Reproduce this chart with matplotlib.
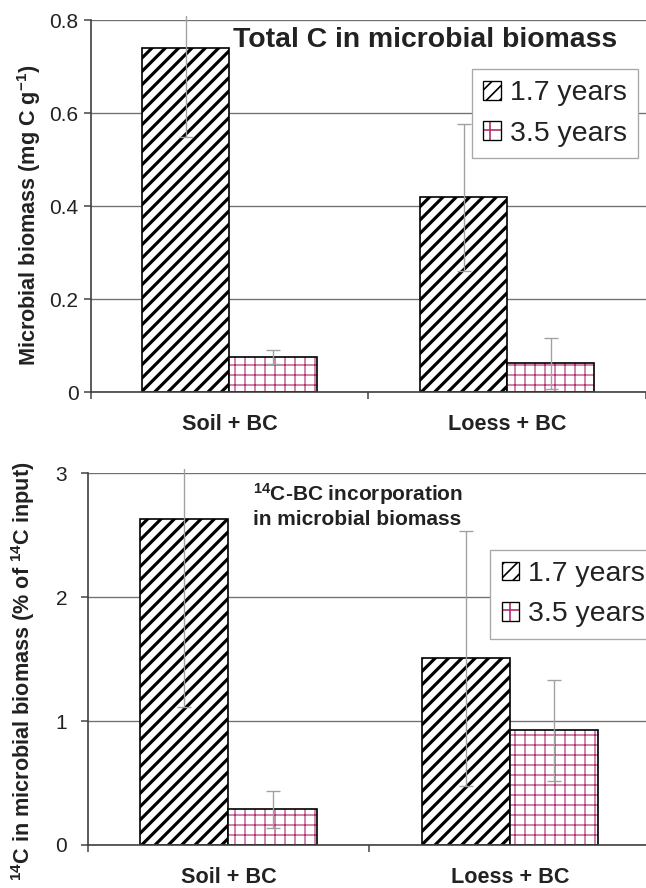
import matplotlib
matplotlib.use("Agg")
import matplotlib.pyplot as plt
from matplotlib.patches import Patch, Rectangle
from matplotlib.legend_handler import HandlerTuple
import numpy as np

# ---------------- data ----------------
categories = ["Soil + BC", "Loess + BC"]
series_labels = ["1.7 years", "3.5 years"]

biomass_17 = [0.740, 0.419]
biomass_17_err = [0.191, 0.158]
biomass_35 = [0.075, 0.062]
biomass_35_err = [0.015, 0.054]
biomass_ticks = [0, 0.2, 0.4, 0.6, 0.8]
biomass_ticklabels = ["0", "0.2", "0.4", "0.6", "0.8"]

inc_17 = [2.63, 1.507]
inc_17_err = [1.515, 1.03]
inc_35 = [0.288, 0.926]
inc_35_err = [0.15, 0.406]
inc_ticks = [0, 1, 2, 3]
inc_ticklabels = ["0", "1", "2", "3"]

# ---------------- style ----------------
DPI = 120
plt.rcParams['font.family'] = ['Liberation Sans', 'DejaVu Sans']
plt.rcParams['mathtext.fontset'] = 'custom'
plt.rcParams['mathtext.rm'] = 'Liberation Sans:bold'
plt.rcParams['mathtext.bf'] = 'Liberation Sans:bold'
plt.rcParams['mathtext.it'] = 'Liberation Sans:bold'
plt.rcParams['mathtext.default'] = 'rm'

TXT = '#222222'
MAG = '#B03070'
GRID = '#707070'
ERR = '#a0a0a0'
W = 0.314

fig = plt.figure(figsize=(646 / DPI, 888 / DPI), dpi=DPI)


def hatch_lw(p, lw):
    if hasattr(p, 'set_hatch_linewidth'):
        p.set_hatch_linewidth(lw)


def draw_panel(ax, v17, e17, v35, e35, ylim, ticks, ticklabels, ypad):
    x = np.arange(len(categories))
    with plt.rc_context({'hatch.linewidth': 1.9}):
        b1 = ax.bar(x - W / 2, v17, W, facecolor='white', edgecolor='black',
                    hatch='///', linewidth=1.0, zorder=3)
    for p in b1:
        hatch_lw(p, 1.9)
    with plt.rc_context({'hatch.linewidth': 0.7}):
        b2 = ax.bar(x + W / 2, v35, W, facecolor='white', edgecolor=MAG,
                    hatch='++', linewidth=0, zorder=3)
    for p in b2:
        hatch_lw(p, 0.7)
    ax.bar(x + W / 2, v35, W, fill=False, edgecolor='black', linewidth=1.0, zorder=4)

    eb1 = ax.errorbar(x - W / 2, v17, yerr=e17, fmt='none', ecolor=ERR,
                      elinewidth=0.8, capsize=4, capthick=0.8, zorder=5)
    eb2 = ax.errorbar(x + W / 2, v35, yerr=e35, fmt='none', ecolor=ERR,
                      elinewidth=0.8, capsize=4, capthick=0.8, zorder=5)
    clip = Rectangle((0, 0), 1, 1.012, transform=ax.transAxes)
    for eb in (eb1, eb2):
        for art in eb.get_children():
            art.set_clip_path(clip)

    ax.set_xlim(-0.5, len(categories) - 0.5)
    ax.set_ylim(*ylim)
    ax.set_yticks(ticks)
    ax.set_yticklabels(ticklabels)
    ax.yaxis.grid(True, color=GRID, linewidth=0.8, zorder=0)
    ax.set_axisbelow(True)
    ax.set_xticks(np.arange(-0.5, len(categories), 1.0))
    ax.set_xticklabels([])
    ax.set_xticks(x, minor=True)
    ax.set_xticklabels(categories, minor=True, fontsize=13, fontweight='bold', color=TXT)
    ax.tick_params(axis='x', which='minor', length=0, pad=13)
    ax.tick_params(axis='x', which='major', direction='out', length=4.2,
                   width=0.9, color='#404040')
    ax.tick_params(axis='y', direction='out', length=4.2, width=0.9,
                   color='#404040', labelsize=12.5, labelcolor=TXT, pad=ypad)
    for s in ('top', 'right'):
        ax.spines[s].set_visible(False)
    for s in ('left', 'bottom'):
        ax.spines[s].set_color('#404040')
        ax.spines[s].set_linewidth(1.0)
    ax.spines['bottom'].set_zorder(6)


def add_legend(ax, anchor):
    with plt.rc_context({'hatch.linewidth': 1.6}):
        h1 = Patch(facecolor='white', edgecolor='black', hatch='///', linewidth=0.8)
    hatch_lw(h1, 1.6)
    with plt.rc_context({'hatch.linewidth': 0.7}):
        h2a = Patch(facecolor='white', edgecolor=MAG, hatch='+', linewidth=0)
    hatch_lw(h2a, 0.7)
    h2b = Patch(fill=False, edgecolor='black', linewidth=0.8)
    leg = ax.legend([h1, (h2a, h2b)], series_labels,
                    handler_map={tuple: HandlerTuple(ndivide=1, pad=0)},
                    loc='upper left', bbox_to_anchor=anchor, fontsize=17,
                    frameon=True, fancybox=False, framealpha=1,
                    edgecolor='#a8a8a8', handlelength=0.62, handleheight=0.62,
                    handletextpad=0.3, labelspacing=0.5, borderpad=0.4,
                    borderaxespad=0)
    leg.get_frame().set_linewidth(0.8)
    for t in leg.get_texts():
        t.set_color(TXT)
    leg.set_zorder(10)
    return leg


# ---------------- top panel ----------------
L1 = 90.5 / 646
ax1 = fig.add_axes([L1, 1 - 392.3 / 888, 1 - L1, (392.3 - 20) / 888])
draw_panel(ax1, biomass_17, biomass_17_err, biomass_35, biomass_35_err,
           (0, 0.8), biomass_ticks, biomass_ticklabels, 3)
add_legend(ax1, (0.687, 0.868))
fig.text(233 / 646, 1 - 46.7 / 888, "Total C in microbial biomass",
         fontsize=17, fontweight='bold', color=TXT, ha='left', va='baseline')
fig.text(29 / 646, 1 - 215 / 888, r"Microbial biomass (mg C g$^{-1}$)",
         fontsize=13, fontweight='bold', color=TXT, rotation=90,
         ha='center', va='center')

# ---------------- bottom panel ----------------
L2 = 87.7 / 646
ax2 = fig.add_axes([L2, 1 - 845 / 888, (650.7 - 87.7) / 646, (845 - 473.3) / 888])
draw_panel(ax2, inc_17, inc_17_err, inc_35, inc_35_err,
           (0, 3), inc_ticks, inc_ticklabels, 8)
add_legend(ax2, (0.715, 0.794))
fig.text(252.7 / 646, 1 - 500.7 / 888, r"$^{14}$C-BC incorporation",
         fontsize=12.5, fontweight='bold', color=TXT, ha='left', va='baseline')
fig.text(252.7 / 646, 1 - 525 / 888, "in microbial biomass",
         fontsize=12.5, fontweight='bold', color=TXT, ha='left', va='baseline')
fig.text(23 / 646, 1 - 461.7 / 888, r"$^{14}$C in microbial biomass (% of $^{14}$C input)",
         fontsize=13, fontweight='bold', color=TXT, rotation=90,
         ha='center', va='top')

fig.savefig("out.png", dpi=DPI)
